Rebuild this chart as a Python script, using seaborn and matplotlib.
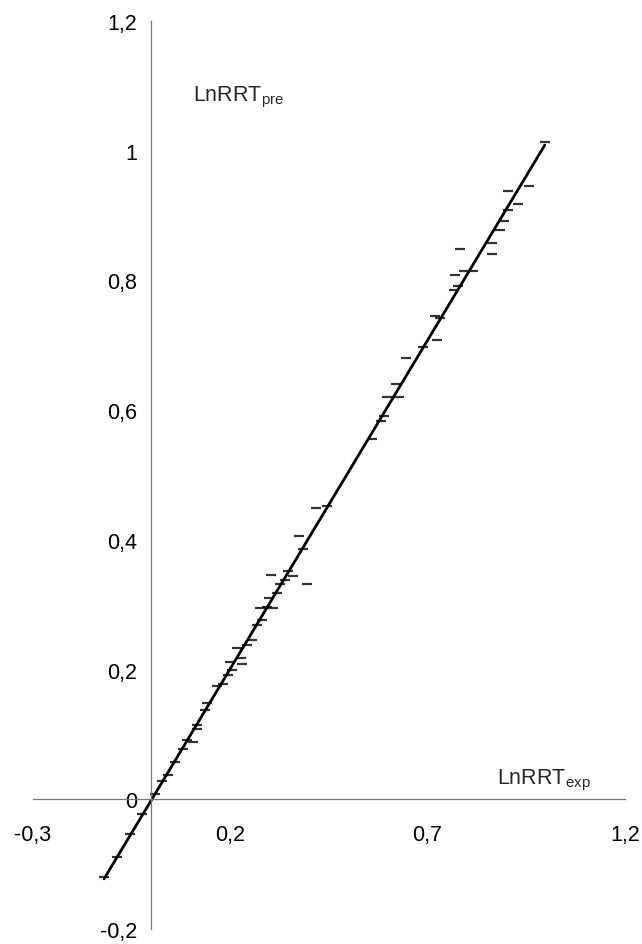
import matplotlib
matplotlib.use("Agg")
import matplotlib.pyplot as plt
import seaborn as sns
import pandas as pd

ln_exp = [-0.120, -0.087, -0.054, -0.023, 0.008, 0.028, 0.041, 0.059, 0.079, 0.089,
          0.105, 0.115, 0.115, 0.135, 0.140, 0.166, 0.181, 0.194, 0.204, 0.199,
          0.227, 0.230, 0.217, 0.242, 0.255, 0.268, 0.281, 0.276, 0.293, 0.309,
          0.298, 0.319, 0.327, 0.395, 0.339, 0.304, 0.347, 0.360, 0.375, 0.383,
          0.416, 0.444, 0.559, 0.582, 0.589, 0.597, 0.628, 0.620, 0.645, 0.689,
          0.724, 0.719, 0.732, 0.768, 0.778, 0.770, 0.793, 0.816, 0.781, 0.862,
          0.862, 0.883, 0.893, 0.903, 0.929, 0.903, 0.957, 0.997]
ln_pre = [-0.120, -0.089, -0.054, -0.023, 0.008, 0.028, 0.038, 0.057, 0.077, 0.092,
          0.088, 0.115, 0.108, 0.137, 0.149, 0.175, 0.178, 0.192, 0.200, 0.211,
          0.218, 0.209, 0.234, 0.238, 0.246, 0.268, 0.277, 0.295, 0.297, 0.295,
          0.311, 0.318, 0.332, 0.332, 0.338, 0.346, 0.352, 0.345, 0.406, 0.386,
          0.449, 0.452, 0.555, 0.583, 0.591, 0.620, 0.620, 0.640, 0.680, 0.697,
          0.708, 0.745, 0.742, 0.785, 0.791, 0.809, 0.815, 0.815, 0.849, 0.840,
          0.858, 0.878, 0.891, 0.908, 0.918, 0.938, 0.945, 1.014]

xticks = [-0.3, 0.2, 0.7, 1.2]
xticklabels = ["-0,3", "0,2", "0,7", "1,2"]
yticks = [-0.2, 0, 0.2, 0.4, 0.6, 0.8, 1.0, 1.2]
yticklabels = ["-0,2", "0", "0,2", "0,4", "0,6", "0,8", "1", "1,2"]

df = pd.DataFrame({"exp": ln_exp, "pre": ln_pre})

sns.set_style("white")
plt.rcParams["font.family"] = ["Liberation Sans", "DejaVu Sans"]
plt.rcParams["mathtext.fontset"] = "custom"
plt.rcParams["mathtext.rm"] = "Liberation Sans"

fig = plt.figure(figsize=(6.42, 9.45), dpi=100)
ax = fig.add_axes([0.0514, 0.0159, 0.922, 0.9608])

sns.regplot(data=df, x="exp", y="pre", ax=ax, ci=None, color="black",
            marker="_", scatter_kws=dict(s=50, linewidths=1.6),
            line_kws=dict(lw=2.0))

ax.set_xlim(-0.3, 1.2)
ax.set_ylim(-0.2, 1.2)
ax.set_xticks(xticks)
ax.set_xticklabels(xticklabels)
ax.set_yticks(yticks)
ax.set_yticklabels(yticklabels)
ax.set_xlabel("")
ax.set_ylabel("")

for s in ["top", "right"]:
    ax.spines[s].set_visible(False)
ax.spines["left"].set_position(("data", 0))
ax.spines["bottom"].set_position(("data", 0))
for s in ["left", "bottom"]:
    ax.spines[s].set_color("#777777")
    ax.spines[s].set_linewidth(0.9)

ax.tick_params(axis="both", direction="out", length=5, width=0.9,
               color="#777777", labelsize=15.5, labelcolor="black")
ax.tick_params(axis="x", pad=13)
ax.tick_params(axis="y", pad=5)
ax.patch.set_alpha(0)

ax.text(0.105, 1.084, r"LnRRT$_{\mathrm{pre}}$", fontsize=15.5, ha="left", va="center")
ax.text(0.877, 0.031, r"LnRRT$_{\mathrm{exp}}$", fontsize=15.5, ha="left", va="center")

fig.savefig("out.png", dpi=100)
